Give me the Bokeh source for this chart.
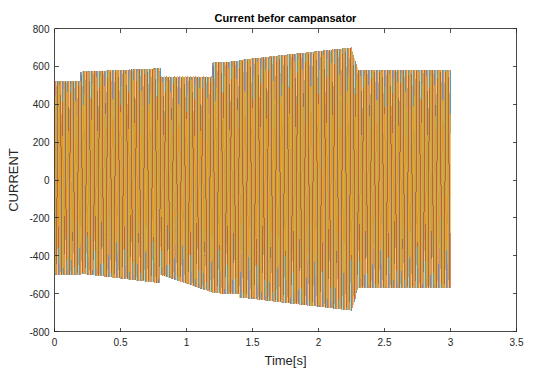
import numpy as np
from bokeh.plotting import figure
from bokeh.models import LinearAxis, FixedTicker, Range1d, InlineStyleSheet
from bokeh.embed import file_html
from bokeh.resources import INLINE

# ---- data ----
# envelope breakpoints (time in s, upper and lower peak current)
env_t  = [0.0, 0.2, 0.2, 0.8, 0.8, 1.2, 1.2, 1.4, 1.4, 2.25, 2.3, 3.0]
env_hi = [520, 520, 572, 590, 546, 546, 620, 628, 634, 700, 580, 580]
env_lo = [-500, -500, -495, -545, -500, -595, -598, -602, -620, -690, -570, -570]
freq_hz = 50.0
phase_deg = [90.0, -30.0, 210.0]          # phases A, B, C
colors = ["#0072BD", "#D95319", "#EDB120"]
x_ticks = [0, 0.5, 1, 1.5, 2, 2.5, 3, 3.5]
x_tick_labels = ["0", "0.5", "1", "1.5", "2", "2.5", "3", "3.5"]
y_ticks = [-800, -600, -400, -200, 0, 200, 400, 600, 800]
y_tick_labels = ["-800", "-600", "-400", "-200", "0", "200", "400", "600", "800"]

# sampled time base
t = np.arange(0.0, 3.0 + 1e-9, 1.0 / 5000.0)
hi = np.interp(t, env_t, env_hi)
lo = np.interp(t, env_t, env_lo)
mid = (hi + lo) / 2.0
half = (hi - lo) / 2.0

FONT = "Liberation Sans"
p = figure(width=541, height=372, output_backend="svg", toolbar_location=None,
           x_range=Range1d(0, 3.5), y_range=Range1d(-800, 800),
           min_border_left=54, min_border_right=25, min_border_top=28,
           min_border_bottom=41, title="Current befor campansator")
p.stylesheets = [InlineStyleSheet(css=":host { shape-rendering: crispEdges; }")]
p.title.text_font = FONT
p.title.text_font_size = "11px"
p.title.text_font_style = "bold"
p.title.align = "center"
p.title.text_color = "#000000"
p.grid.visible = False
p.outline_line_color = "#262626"
p.outline_line_alpha = 0.6
p.background_fill_color = "white"
p.border_fill_color = "white"

for ph, c in zip(phase_deg, colors):
    y = mid + half * np.sin(2 * np.pi * freq_hz * t + np.deg2rad(ph))
    p.line(t, y, line_color=c, line_width=1, line_alpha=0.7)

def style(ax, labels=True):
    ax.major_tick_in = 4
    ax.major_tick_out = 0
    ax.minor_tick_line_color = None
    ax.axis_line_color = "#262626"
    ax.axis_line_alpha = 0.6
    ax.major_tick_line_color = "#262626"
    ax.major_tick_line_alpha = 0.8
    ax.major_label_text_font = FONT
    ax.major_label_text_font_size = "10px"
    ax.major_label_text_color = "#262626"
    ax.axis_label_text_font = FONT
    ax.axis_label_text_font_size = "13px"
    ax.axis_label_text_font_style = "normal"
    ax.axis_label_text_color = "#262626"
    if not labels:
        ax.major_label_text_font_size = "0px"
        ax.major_label_standoff = 0

xa = p.xaxis[0]
xa.ticker = FixedTicker(ticks=x_ticks)
xa.major_label_overrides = dict(zip(x_ticks, x_tick_labels))
xa.axis_label = "Time[s]"
style(xa)
xa.major_label_standoff = 6
xa.axis_label_standoff = 4

ya = p.yaxis[0]
ya.ticker = FixedTicker(ticks=y_ticks)
ya.major_label_overrides = dict(zip(y_ticks, y_tick_labels))
ya.axis_label = "CURRENT"
style(ya)
ya.major_label_standoff = 5
ya.axis_label_standoff = 5

top = LinearAxis(ticker=FixedTicker(ticks=x_ticks))
style(top, labels=False)
p.add_layout(top, "above")
right = LinearAxis(ticker=FixedTicker(ticks=y_ticks))
style(right, labels=False)
p.add_layout(right, "right")

open("out.html", "w").write(file_html(p, INLINE))
